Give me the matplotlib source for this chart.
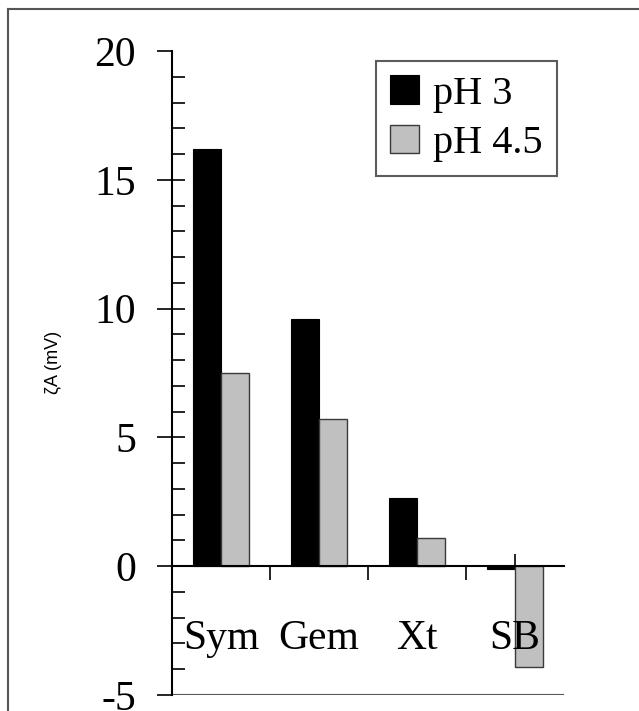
import matplotlib
matplotlib.use("Agg")
import matplotlib.pyplot as plt
import numpy as np
from matplotlib.ticker import FixedLocator, FixedFormatter
from matplotlib.lines import Line2D

categories = ["Sym", "Gem", "Xt", "SB"]
series_names = ["pH 3", "pH 4.5"]
ph3 = [16.2, 9.6, 2.65, -0.1]
ph45 = [7.5, 5.7, 1.1, -3.9]
ytick_vals = [-5, 0, 5, 10, 15, 20]
ytick_labels = ["-5", "0", "5", "10", "15", "20"]
ylabel = "ζA (mV)"

serif = ["Liberation Serif", "DejaVu Serif"]
sans = ["Liberation Sans", "DejaVu Sans"]

fig = plt.figure(figsize=(6.39, 7.11), dpi=100)
ax = fig.add_axes([172/639, 1 - 695/711, (564-172)/639, (695-51)/711])

x = np.arange(len(categories))
w = 0.29
ax.bar(x - w/2, ph3, width=w, color="black", edgecolor="black", linewidth=0.8,
       label=series_names[0], zorder=2)
ax.bar(x + w/2, ph45, width=w, color="#c0c0c0", edgecolor="#3a3a3a", linewidth=1.0,
       label=series_names[1], zorder=2)

ax.set_xlim(-0.5, len(categories) - 0.5)
ax.set_ylim(ytick_vals[0], ytick_vals[-1])

# spines
for s in ["top", "right"]:
    ax.spines[s].set_visible(False)
ax.spines["bottom"].set_position(("data", 0))
ax.spines["bottom"].set_linewidth(1.5)
ax.spines["bottom"].set_color("black")
ax.spines["left"].set_linewidth(1.5)
ax.spines["left"].set_zorder(3)
ax.spines["bottom"].set_zorder(3)
# bottom boundary line at ylim bottom
ax.axhline(ytick_vals[0], color="#555555", linewidth=1.5, zorder=1)

# y ticks
ax.yaxis.set_major_locator(FixedLocator(ytick_vals))
ax.yaxis.set_major_formatter(FixedFormatter(ytick_labels))
minor = [v for v in range(ytick_vals[0] + 1, ytick_vals[-1])]
ax.yaxis.set_minor_locator(FixedLocator(minor))
ax.yaxis.remove_overlapping_locs = False
ax.tick_params(axis="y", which="major", direction="out", length=11, width=1.2,
               pad=15, labelsize=30)
ax.tick_params(axis="y", which="minor", direction="in", length=9, width=1.2)
for lab in ax.get_yticklabels():
    lab.set_fontfamily(serif)

# x ticks at category boundaries, labels drawn inside
ax.xaxis.set_major_locator(FixedLocator(list(x[:-1] + 0.5)))
ax.xaxis.set_major_formatter(FixedFormatter([""] * (len(categories) - 1)))
ax.xaxis.set_minor_locator(FixedLocator([x[-1]]))
ax.tick_params(axis="x", which="major", direction="out", length=10, width=1.2)
ax.tick_params(axis="x", which="minor", direction="in", length=9, width=1.2)

for i, c in enumerate(categories):
    ax.text(x[i], -2.8, c, ha="center", va="center", fontsize=30,
            fontfamily=serif, zorder=4)

fig.text(53/639, 1 - 362/711, ylabel, rotation=90, ha="center", va="center",
         fontsize=13, fontfamily=sans)

leg = ax.legend(loc="upper right", bbox_to_anchor=(557/639, 1 - 61/711),
                bbox_transform=fig.transFigure, prop={"family": serif, "size": 29},
                handlelength=0.72, handleheight=0.72, handletextpad=0.35,
                borderpad=0.35, labelspacing=0.3, fancybox=False, frameon=True,
                borderaxespad=0)
leg.get_frame().set_edgecolor("#333333")
leg.get_frame().set_linewidth(1.5)

# outer frame (left and top edges)
fl = 8/639
ft = 1 - 9/711
fig.add_artist(Line2D([fl, fl], [0, ft], transform=fig.transFigure, color="#555555", lw=1.5))
fig.add_artist(Line2D([fl, 1], [ft, ft], transform=fig.transFigure, color="#555555", lw=1.5))

fig.savefig("out.png", dpi=100)
